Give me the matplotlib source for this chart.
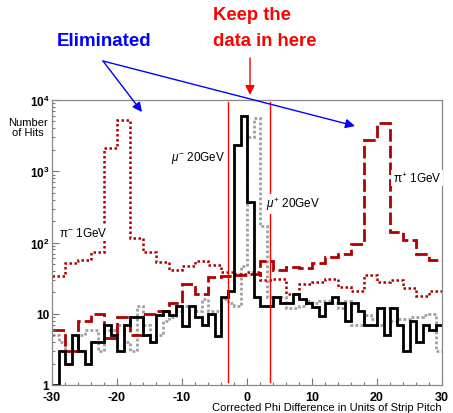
import numpy as np
import matplotlib
matplotlib.use("Agg")
import matplotlib.pyplot as plt
from matplotlib.ticker import FixedLocator, FixedFormatter, LogLocator, NullFormatter, MultipleLocator

plt.rcParams['font.family'] = ['Liberation Sans', 'DejaVu Sans']
plt.rcParams['mathtext.fontset'] = 'custom'
plt.rcParams['mathtext.rm'] = 'Liberation Sans'
plt.rcParams['mathtext.it'] = 'Liberation Sans:italic'
plt.rcParams['mathtext.bf'] = 'Liberation Sans:bold'

# ---- data ----
mu_edges = np.arange(-30, 31, 1)
pi_edges = np.arange(-30, 31, 2)

mu_minus_20GeV = [1, 3, 2, 5, 3, 2, 4, 4, 7, 5,
                  3, 7, 9, 9, 5, 4, 9.5, 11, 9.5, 13,
                  6.7, 13, 9, 7, 10, 4.8, 17, 21, 2300, 6000,
                  375, 17, 13, 13, 17, 14, 14, 19, 16, 14,
                  12.5, 9.3, 14, 17, 14, 8, 14, 11, 7, 7,
                  12, 5, 12, 7, 3, 8, 4, 7, 6, 7]

mu_plus_20GeV = [5, 4, 3, 3, 5, 6, 6, 3, 6, 6,
                 7, 4, 3, 13, 7, 4, 5, 8, 9, 11,
                 13, 13, 11, 16, 11, 11, 16, 14, 13, 47,
                 3000, 5500, 170, 17, 17, 17, 12, 12, 13, 15,
                 14, 15, 15, 14, 12, 15, 7, 7, 9.5, 8.5,
                 7, 12, 8, 8.5, 8.5, 9, 9, 9.5, 10, 3]

pi_minus_1GeV = [34, 52, 57, 74, 2100, 5200, 115, 74, 53, 41,
                 47, 55, 48, 38, 36, 38, 30, 31, 19, 26,
                 28, 31, 24, 21, 35, 28, 30, 23, 18, 21]

pi_plus_1GeV = [6, 3, 8, 10, 4.5, 9, 5, 10, 11, 14,
                26, 19, 33, 34, 35, 36, 55, 41, 45, 44,
                52, 63, 68, 95, 2770, 4700, 141, 108, 70, 57]

xticks = [-30, -20, -10, 0, 10, 20, 30]
xticklabels = ['-30', '-20', '-10', '0', '10', '20', '30']
yticks = [1, 10, 100, 1000, 10000]
yticklabels = ['1', '10', r'$\mathbf{10}^{\mathbf{2}}$', r'$\mathbf{10}^{\mathbf{3}}$', r'$\mathbf{10}^{\mathbf{4}}$']
cut_lines = [-3, 3.5]

W, H = 453, 414
fig = plt.figure(figsize=(W / 100, H / 100), dpi=100)
ax = fig.add_axes([52 / W, 1 - 386 / H, 390 / W, 285 / H])

darkred = '#b00000'
ax.stairs(mu_plus_20GeV, mu_edges, baseline=None, color='#a0a0a0', lw=2.0,
          linestyle=(0, (1, 0.8)))
ax.stairs(pi_minus_1GeV, pi_edges, baseline=None, color=darkred, lw=1.8,
          linestyle=(0, (1, 1)))
ax.stairs(pi_plus_1GeV, pi_edges, baseline=None, color=darkred, lw=2.0,
          linestyle=(0, (4.5, 1.5)))
ax.stairs(mu_minus_20GeV, mu_edges, baseline=None, color='black', lw=2.0)

for xc in cut_lines:
    ax.axvline(xc, ymin=0.01, ymax=0.993, color='red', lw=1.0, zorder=1)

ax.set_yscale('log')
ax.set_xlim(-30, 30)
ax.set_ylim(1, 1e4)

ax.xaxis.set_major_locator(FixedLocator(xticks))
ax.xaxis.set_major_formatter(FixedFormatter(xticklabels))
ax.xaxis.set_minor_locator(MultipleLocator(2))
ax.yaxis.set_major_locator(FixedLocator(yticks))
ax.yaxis.set_major_formatter(FixedFormatter(yticklabels))
ax.yaxis.set_minor_locator(LogLocator(base=10, subs=np.arange(2, 10)))
ax.yaxis.set_minor_formatter(NullFormatter())

ax.tick_params(which='both', direction='in', top=False, right=False, color='#777777')
ax.tick_params(which='major', length=5, width=0.8)
ax.tick_params(axis='x', which='major', pad=4.5, labelsize=9)
ax.tick_params(axis='y', which='major', pad=2, labelsize=8.5)
ax.tick_params(which='minor', length=2.5, width=0.8)
for lab in ax.get_xticklabels() + ax.get_yticklabels():
    lab.set_fontweight('bold')
for sp in ax.spines.values():
    sp.set_color('#888888')
    sp.set_linewidth(0.9)

bb = dict(facecolor='white', edgecolor='none', pad=1)
ax.text(-28.9, 140, 'π$^{-}$ 1GeV', fontsize=8.5, va='center', ha='left', bbox=bb)
ax.text(-3.3, 1600, r'$\mu^{-}$ 20GeV', fontsize=8.5, va='center', ha='right', bbox=bb)
ax.text(3.0, 350, r'$\mu^{+}$ 20GeV', fontsize=8.5, va='center', ha='left', bbox=bb)
ax.text(29.9, 800, 'π$^{+}$ 1GeV', fontsize=8.5, va='center', ha='right', bbox=bb)

fig.text(28 / W, 1 - 128 / H, 'Number\nof Hits', fontsize=8, ha='center', va='center',
         linespacing=1.0)
fig.text(442 / W, 1 - 408 / H, 'Corrected Phi Difference in Units of Strip Pitch',
         fontsize=8, ha='right', va='center')

fig.text(104.5 / W, 1 - 42 / H, 'Eliminated', fontsize=13.5, fontweight='bold',
         color='#0000ff', ha='center', va='center')
fig.text(213 / W, 1 - 16 / H, 'Keep the', fontsize=13.3, fontweight='bold',
         color='#ff0000', ha='left', va='center')
fig.text(213 / W, 1 - 41 / H, 'data in here', fontsize=13.3, fontweight='bold',
         color='#ff0000', ha='left', va='center')

def px(x, y):
    return (x / W, 1 - y / H)

arrow_blue = dict(arrowstyle='-|>', color='#0000ff', lw=1.0, mutation_scale=14,
                  shrinkA=0, shrinkB=0)
ax.annotate('', xy=px(142, 113), xytext=px(103, 62), xycoords='figure fraction',
            textcoords='figure fraction', arrowprops=arrow_blue, annotation_clip=False)
ax.annotate('', xy=px(355, 127), xytext=px(103, 62), xycoords='figure fraction',
            textcoords='figure fraction', arrowprops=arrow_blue, annotation_clip=False)
arrow_red = dict(arrowstyle='-|>', color='#ff0000', lw=1.0, mutation_scale=14,
                 shrinkA=0, shrinkB=0)
ax.annotate('', xy=px(250, 96), xytext=px(250, 59), xycoords='figure fraction',
            textcoords='figure fraction', arrowprops=arrow_red, annotation_clip=False)

fig.savefig('out.png', dpi=100)
